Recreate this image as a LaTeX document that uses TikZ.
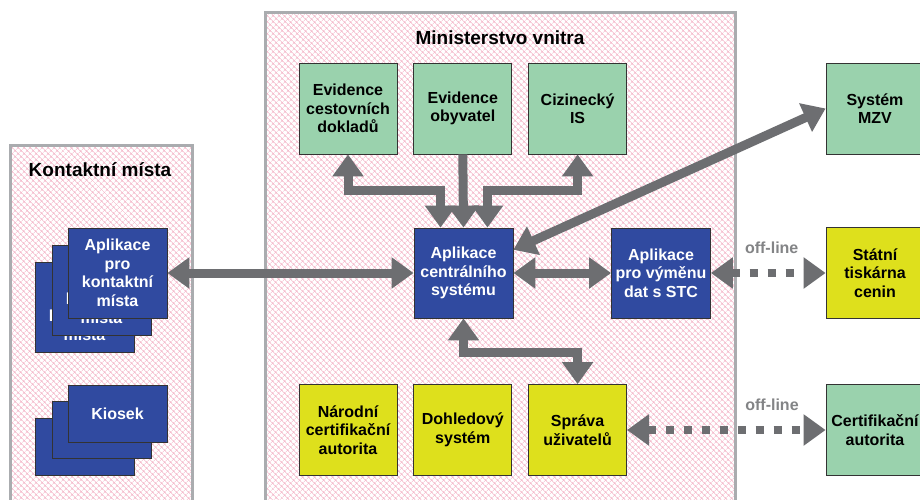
\documentclass[tikz,border=0pt]{standalone}
\usepackage{fontspec}
\setmainfont{Liberation Sans}
\usetikzlibrary{arrows.meta, positioning, calc, patterns.meta}
\definecolor{appblue}{RGB}{48, 74, 160}
\definecolor{sysgreen}{RGB}{154, 210, 173}
\definecolor{sysyellow}{RGB}{222, 224, 28}
\definecolor{arrowgray}{RGB}{109, 110, 113}
\definecolor{framegray}{RGB}{170, 172, 175}
\definecolor{hatchpink}{RGB}{244, 182, 200}

\begin{document}
\begin{tikzpicture}[x=1pt, y=-1pt,
    box/.style={rectangle, draw=black!80, line width=0.8pt,
                minimum width=98pt, minimum height=91pt, inner sep=1pt,
                align=center, font=\fontsize{16}{18.5}\selectfont\bfseries},
    app/.style={box, fill=appblue, text=white,
                minimum width=99pt, minimum height=90pt},
    sys/.style={box, fill=sysgreen},
    ext/.style={box, fill=sysyellow},
    zone/.style={draw=framegray, line width=3pt,
                 pattern={Hatch[angle=45, distance=4pt, line width=0.5pt]},
                 pattern color=hatchpink},
    zonetitle/.style={font=\fontsize{19}{22}\selectfont\bfseries},
    link/.style={arrowgray, line width=9pt},
    dotlink/.style={arrowgray, line width=8pt, dash pattern=on 8pt off 10pt},
    twoway/.style={{Triangle[width=30pt, length=22pt]}-{Triangle[width=30pt, length=22pt]}},
    oneway/.style={-{Triangle[width=30pt, length=22pt]}},
    offline/.style={above=15pt, inner sep=0pt, text=arrowgray!85,
                    font=\fontsize{16}{18}\selectfont\bfseries},
]
\useasboundingbox (0,0) rectangle (920,500);
\clip (0,0) rectangle (920,500);
\fill[white] (0,0) rectangle (920,500);

%% ── Kontaktní místa ─────────────────────────────────────────────────────────
\path[zone] (10,145) rectangle (192,520);
\node[zonetitle] (kmT) at (100,170) {Kontaktní místa};

\node[app] (kap3) at (84.5,307)  {Aplikace\\pro\\kontaktní\\místa};
\node[app] (kap2) at (101.5,290) {Aplikace\\pro\\kontaktní\\místa};
\node[app] (kap1) at (117.5,273) {Aplikace\\pro\\kontaktní\\místa};

\node[app, minimum height=57pt] (kio3) at (84.5,446.5)  {Kiosek};
\node[app, minimum height=57pt] (kio2) at (101.5,430)   {Kiosek};
\node[app, minimum height=57pt] (kio1) at (117.5,413.5) {Kiosek};

%% ── Ministerstvo vnitra ─────────────────────────────────────────────────────
\path[zone] (265,13) rectangle (735,520);
\node[zonetitle] (mvT) at (500,38) {Ministerstvo vnitra};

\node[sys]                    (evCD) at (348,108.5) {Evidence\\cestovních\\dokladů};
\node[sys, right=16pt of evCD] (evOB)              {Evidence\\obyvatel};
\node[sys, right=16pt of evOB] (ciz)               {Cizinecký\\IS};

\node[app] (centr) at (463.5,273) {Aplikace\\centrálního\\systému};
\node[app] (stc)   at (661,273)   {Aplikace\\pro výměnu\\dat s STC};

\node[ext]                      (narCA)  at (348,430) {Národní\\certifikační\\autorita};
\node[ext, right=16pt of narCA]  (dohled)            {Dohledový\\systém};
\node[ext, right=16pt of dohled] (sprava)            {Správa\\uživatelů};

%% ── External systems ────────────────────────────────────────────────────────
\node[sys] (mzv)   at (875,108.5) {Systém\\MZV};
\node[ext] (tisk)  at (875,273)   {Státní\\tiskárna\\cenin};
\node[sys] (certA) at (875,430)   {Certifikační\\autorita};

%% ── Connections ─────────────────────────────────────────────────────────────
\draw[link, twoway] (kap1.east) -- (centr.west);
\draw[link, twoway] (centr.east) -- (stc.west);
\draw[link, twoway] (centr.25) -- (mzv.west);

\draw[link, twoway] (evCD.south) -- ++(0,36) -| ([xshift=-23pt]centr.north);
\draw[link, oneway] (evOB.south) -- (centr.north);
\draw[link, twoway] (ciz.south) -- ++(0,36) -| ([xshift=24pt]centr.north);

\draw[link, twoway] (centr.south) -- ++(0,34) -| (sprava.north);

% off-line links
\draw[dotlink, twoway] (stc.east) -- node[offline, pos=0.53]{off-line} (tisk.west);
\draw[dotlink, twoway] (sprava.east) -- node[offline, pos=0.73]{off-line} (certA.west);

\end{tikzpicture}
\end{document}
